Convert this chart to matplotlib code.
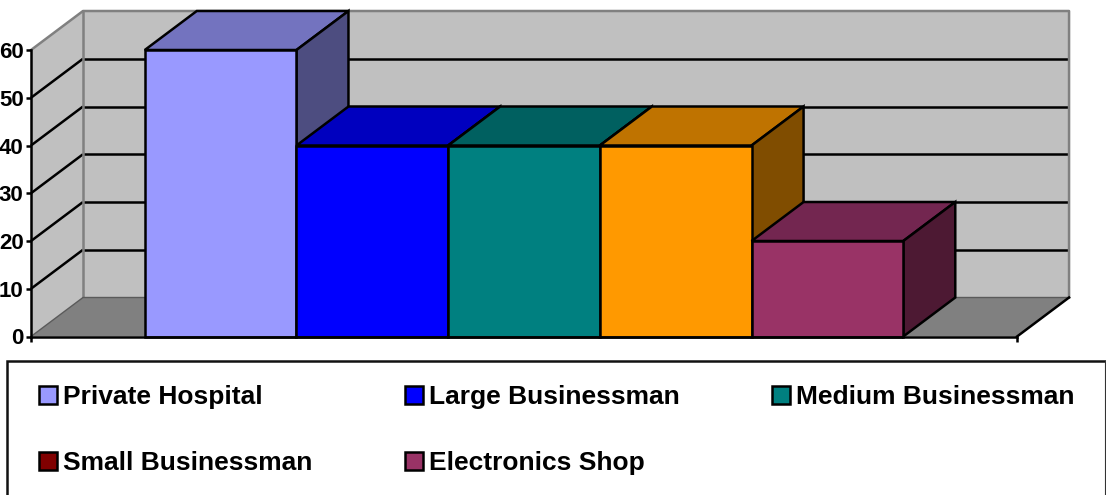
import matplotlib
matplotlib.use('Agg')
import matplotlib.pyplot as plt
from matplotlib.lines import Line2D
from matplotlib.patches import Polygon, Rectangle

plt.rcParams['font.family'] = ['Liberation Sans', 'DejaVu Sans']
plt.rcParams['font.weight'] = 'bold'

names = ['Private Hospital', 'Large Businessman', 'Medium Businessman',
         'Small Businessman', 'Electronics Shop']
values = [60, 40, 40, 40, 20]
y_ticks = [0, 10, 20, 30, 40, 50, 60]

front_cols = ['#9999FF', '#0000FF', '#008080', '#FF9900', '#993366']
top_cols = ['#7373BF', '#0000BF', '#006060', '#BF7300', '#732650']
side_cols = ['#4D4D80', '#000080', '#004040', '#804D00', '#4D1933']
legend_cols = ['#9999FF', '#0000FF', '#008080', '#800000', '#993366']

# scale of the plot in pixels, the depth is what fakes the 3d look
W, H = 1106, 495
x0, y0 = 31, 336.5
px_x = 151.7
px_y = 4.775
dx = 52 / px_x
dy = 39 / px_y
x_end = 6.5
y_end = 60
lw = 1.8

fig = plt.figure(figsize=(W / 100, H / 100), dpi=100)
ax = fig.add_axes([0, 0, 1, 1])
ax.set_xlim(-x0 / px_x, (W - x0) / px_x)
ax.set_ylim((y0 - H) / px_y, y0 / px_y)

# walls and floor
ax.add_patch(Polygon([(0, 0), (dx, dy), (dx, y_end + dy), (0, y_end)], fc='#C0C0C0', ec='none', zorder=1))
ax.add_patch(Polygon([(dx, dy), (x_end + dx, dy), (x_end + dx, y_end + dy), (dx, y_end + dy)], fc='#C0C0C0', ec='none', zorder=1))
ax.add_patch(Polygon([(0, 0), (x_end, 0), (x_end + dx, dy), (dx, dy)], fc='#808080', ec='none', zorder=1))

for v in y_ticks[1:-1]:
    ax.plot([0, dx], [v, v + dy], color='black', lw=lw, zorder=1.5, solid_capstyle='butt')
    ax.plot([dx, x_end + dx], [v + dy, v + dy], color='black', lw=lw, zorder=1.5, solid_capstyle='butt')

ax.plot([0, dx, x_end + dx, x_end + dx], [y_end, y_end + dy, y_end + dy, dy], color='#808080', lw=lw, zorder=1.6)
ax.plot([dx, dx], [dy, y_end + dy], color='#808080', lw=lw, zorder=1.6)
ax.plot([0, dx, x_end + dx], [0, dy, dy], color='#5A5A5A', lw=1, zorder=1.6)
ax.plot([x_end, x_end + dx], [0, dy], color='black', lw=lw, zorder=1.6)

# bars, left to right so the next one hides the side of the last one
for i, v in enumerate(values):
    x = 0.75 + i
    z = 3 + i
    ax.bar(x, v, width=1, align='edge', color=front_cols[i], edgecolor='black', linewidth=lw, zorder=z + 0.2)
    ax.add_patch(Polygon([(x, v), (x + 1, v), (x + 1 + dx, v + dy), (x + dx, v + dy)],
                         fc=top_cols[i], ec='black', lw=lw, zorder=z))
    ax.add_patch(Polygon([(x + 1, 0), (x + 1 + dx, dy), (x + 1 + dx, v + dy), (x + 1, v)],
                         fc=side_cols[i], ec='black', lw=lw, zorder=z))

# axes
for s in ['top', 'right']:
    ax.spines[s].set_visible(False)
ax.spines['left'].set_position(('data', 0))
ax.spines['bottom'].set_position(('data', 0))
ax.spines['left'].set_bounds(0, y_end)
ax.spines['bottom'].set_bounds(0, x_end)
ax.spines['left'].set_linewidth(lw)
ax.spines['bottom'].set_linewidth(lw)
ax.spines['left'].set_zorder(2)
ax.spines['bottom'].set_zorder(10)
ax.set_yticks(y_ticks)
ax.set_xticks([0, x_end])
ax.set_xticklabels([])
ax.tick_params(axis='y', length=3.5, width=lw, pad=1.8, labelsize=16)
ax.tick_params(axis='x', length=3.5, width=lw)
ax.set_axisbelow(False)
ax.patch.set_visible(False)

# legend box has no bottom line, it runs off the picture
fig.add_artist(Line2D([6.5 / W, 6.5 / W, (W - 1) / W], [0, 1 - 361 / H, 1 - 361 / H],
                      transform=fig.transFigure, color='#111111', lw=lw, solid_joinstyle='miter'))
fig.add_artist(Line2D([(W - 1.5) / W, (W - 1.5) / W], [0, 1 - 361 / H],
                      transform=fig.transFigure, color='#333333', lw=0.8))

# columns fill downwards so the order is shuffled
handles = [Rectangle((0, 0), 1, 1, fc=c, ec='black', lw=lw) for c in legend_cols]
order = [0, 3, 1, 4, 2]
fig.legend([handles[i] for i in order], [names[i] for i in order], ncols=3,
           loc='upper left', bbox_to_anchor=(39 / W, 1 - 385 / H), borderaxespad=0, borderpad=0,
           frameon=False, fontsize=19, handlelength=0.68, handleheight=0.68,
           handletextpad=0.23, columnspacing=3.5, labelspacing=1.6)

fig.savefig('out.png', dpi=100, facecolor='white')
